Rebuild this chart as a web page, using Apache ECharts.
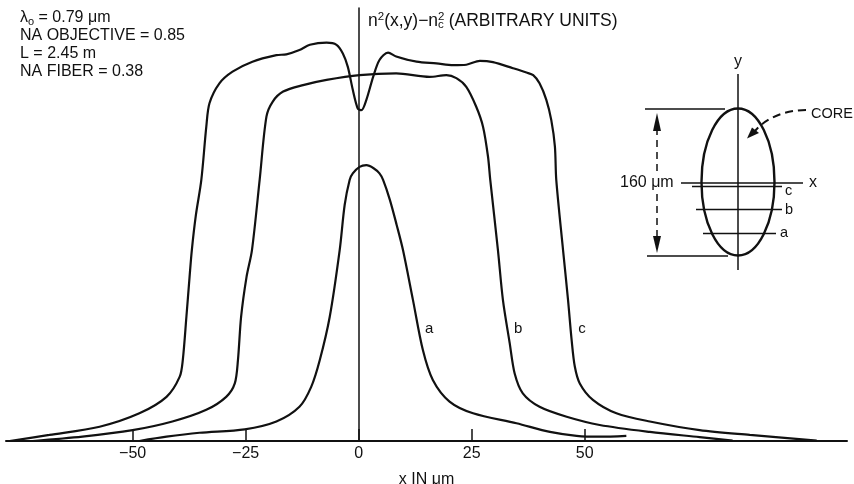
<!DOCTYPE html>
<html>
<head>
<meta charset="utf-8">
<script src="https://cdn.jsdelivr.net/npm/echarts@6/dist/echarts.min.js"></script>
<style>
  html, body { margin: 0; background: #fff; }
  #chart { width: 854px; height: 484px; }
</style>
</head>
<body>
<div id="chart"></div>
<script>
// x in micrometres, y in arbitrary units (0 = baseline, 100 = top of the vertical axis)
const xTicks = [-50, -25, 0, 25, 50];

const curveA = [
  [-48.5, 0], [-42.5, 1.0], [-35.2, 1.9], [-25.2, 2.7], [-18.2, 4.5], [-13.1, 7.9],
  [-10.5, 12.5], [-8.6, 18.7], [-6.4, 28.7], [-4.2, 44.1], [-3.1, 54.5], [-2.0, 60.3],
  [-1.3, 61.8], [0.2, 63.3], [1.7, 63.7], [3.3, 63.0], [4.6, 61.8], [5.4, 60.3],
  [6.9, 55.7], [8.4, 49.9], [9.8, 44.1], [12.0, 32.6], [14.2, 21.0], [16.4, 14.1],
  [20.1, 9.1], [25.3, 6.4], [34.9, 4.1], [42.3, 2.1], [48.2, 1.2], [53.3, 1.0], [59.2, 1.2]
];

const curveB = [
  [-72.1, 0], [-61.1, 1.0], [-50.0, 2.5], [-41.2, 4.5], [-33.7, 7.2], [-29.3, 10.2],
  [-27.4, 13.3], [-26.7, 18.7], [-26.0, 28.7], [-24.8, 37.9], [-23.6, 44.1], [-21.9, 60.3],
  [-20.4, 74.9], [-19.0, 78.4], [-16.7, 80.7], [-12.3, 82.2], [-7.1, 83.4], [0.2, 84.5],
  [8.3, 84.9], [15.7, 84.1], [19.4, 84.5], [21.6, 83.8], [23.8, 81.8], [26.0, 77.2],
  [27.5, 72.6], [28.6, 65.7], [29.1, 60.3], [30.8, 44.1], [31.9, 32.6], [33.4, 22.6],
  [34.5, 15.6], [36.3, 11.0], [40.0, 7.9], [46.0, 5.6], [53.3, 3.7], [64.4, 2.1],
  [75.4, 0.9], [82.7, 0.1]
];

const curveC = [
  [-77.2, 0], [-68.4, 1.4], [-57.3, 3.3], [-48.5, 6.4], [-42.5, 10.2], [-39.6, 14.8],
  [-38.9, 18.7], [-38.1, 28.7], [-37.4, 37.9], [-36.9, 44.1], [-36.0, 52.2], [-34.8, 60.3],
  [-33.7, 72.6], [-33.0, 78.0], [-30.8, 82.6], [-27.9, 85.3], [-23.5, 87.6], [-18.2, 89.1],
  [-16.0, 89.3], [-13.1, 90.3], [-10.8, 91.5], [-7.1, 92.0], [-4.9, 91.5], [-3.5, 89.5],
  [-2.4, 86.4], [-1.3, 81.1], [-0.2, 76.8], [0.6, 76.4], [1.7, 78.8], [3.2, 84.1],
  [4.6, 88.0], [6.5, 89.7], [8.3, 88.8], [12.8, 87.6], [17.2, 87.2], [20.9, 86.8],
  [23.8, 86.9], [26.8, 87.8], [29.7, 87.5], [34.1, 86.1], [37.1, 85.1], [38.6, 84.5],
  [40.0, 82.6], [41.5, 78.8], [42.6, 74.1], [43.4, 68.0], [43.7, 60.3], [45.2, 44.1],
  [46.3, 32.6], [47.1, 23.3], [47.8, 17.2], [48.9, 13.3], [51.8, 9.5], [57.0, 6.4],
  [64.4, 4.5], [75.4, 2.5], [86.5, 1.4], [101.3, 0.1]
];

const curveNames = ['a', 'b', 'c'];
const curveLabelX = [15.6, 35.3, 49.4];
const curveLabelY = 25.9;

const font = '"Liberation Sans", Arial, Helvetica, sans-serif';
const ink = '#111';
const clear = 'rgba(0,0,0,0)';

const chart = echarts.init(document.getElementById('chart'));

function curveSeries(name, data, i) {
  return {
    name: name,
    type: 'line',
    data: data,
    smooth: 0.3,
    showSymbol: false,
    lineStyle: { color: ink, width: 2.2 },
    markPoint: {
      symbol: 'circle',
      symbolSize: 0,
      silent: true,
      label: { show: true, position: 'inside', formatter: name, color: ink, fontSize: 15, fontFamily: font },
      data: [{ coord: [curveLabelX[i], curveLabelY] }]
    }
  };
}

// zrender rich styles (graphic elements use fill, not color)
const rich = {
  T: { fontSize: 17.5, fontFamily: font, fill: ink, lineHeight: 22 },
  H: { fontSize: 17.5, fontFamily: font, fill: clear, lineHeight: 22 },
  sub: { fontSize: 11.5, fontFamily: font, fill: ink, lineHeight: 22, padding: [8, 0, 0, 0] },
  sup: { fontSize: 11.5, fontFamily: font, fill: ink, lineHeight: 22, padding: [0, 0, 9, 0] },
  hs: { fontSize: 11.5, fontFamily: font, fill: clear, lineHeight: 22, padding: [0, 0, 9, 0] }
};

function txt(x, y, s, size, align) {
  return {
    type: 'text', x: x, y: y, silent: true,
    style: { text: s, fill: ink, font: size + 'px ' + font, align: align || 'left', verticalAlign: 'middle' }
  };
}
function seg(x1, y1, x2, y2, w, dash) {
  return {
    type: 'line', silent: true,
    shape: { x1: x1, y1: y1, x2: x2, y2: y2 },
    style: { stroke: ink, lineWidth: w || 1.5, lineDash: dash || null }
  };
}
function tri(points) {
  return { type: 'polygon', silent: true, shape: { points: points }, style: { fill: ink } };
}

chart.setOption({
  animation: false,
  backgroundColor: '#fff',
  grid: { left: 6, right: 7, top: 8, bottom: 43, outerBoundsMode: 'none', containLabel: false },
  xAxis: {
    type: 'value',
    min: -78,
    max: 108,
    name: 'x IN μm',
    nameLocation: 'middle',
    nameGap: 31,
    nameTextStyle: { fontSize: 16, fontFamily: font, color: ink },
    axisLine: { onZero: false, lineStyle: { color: ink, width: 2 } },
    axisTick: { show: true, inside: true, length: 12, customValues: xTicks, lineStyle: { color: ink, width: 1.5 } },
    axisLabel: {
      customValues: xTicks,
      margin: 5,
      fontSize: 16,
      fontFamily: font,
      color: ink,
      formatter: v => String(v).replace('-', '\u2212')
    },
    splitLine: { show: false }
  },
  yAxis: {
    type: 'value',
    min: 0,
    max: 100,
    axisLine: { show: true, onZero: true, lineStyle: { color: ink, width: 1.5 } },
    axisTick: { show: false },
    axisLabel: { show: false },
    splitLine: { show: false }
  },
  series: [curveSeries('a', curveA, 0), curveSeries('b', curveB, 1), curveSeries('c', curveC, 2)],
  graphic: [
    // experiment parameters, top left
    {
      type: 'text', left: 20, top: 9, silent: true,
      style: {
        text: '{t|λ}{sub|o}{t| = 0.79 μm}\n{t|NA OBJECTIVE = 0.85}\n{t|L = 2.45 m}\n{t|NA FIBER = 0.38}',
        rich: {
          t: { fontSize: 16, fontFamily: font, fill: ink, lineHeight: 17.8 },
          sub: { fontSize: 11, fontFamily: font, fill: ink, lineHeight: 17.8, padding: [7, 0, 0, 0] }
        }
      }
    },
    // vertical axis title
    {
      type: 'text', x: 368, y: 10, silent: true,
      style: {
        text: '{T|n}{sup|2}{T|(x,y)\u2212n}{sub|c}{T| (ARBITRARY UNITS)}',
        rich: rich, verticalAlign: 'top'
      }
    },
    {
      type: 'text', x: 368, y: 10, silent: true,
      style: {
        text: '{H|n}{hs|2}{H|(x,y)\u2212n}{sup|2}',
        rich: rich, verticalAlign: 'top'
      }
    },
    // inset: fibre core cross-section
    {
      type: 'ellipse', silent: true,
      shape: { cx: 738, cy: 182, rx: 36.5, ry: 73.5 },
      style: { fill: null, stroke: ink, lineWidth: 2.4 }
    },
    seg(738, 74, 738, 270),
    txt(738, 62, 'y', 16, 'center'),
    seg(681, 183, 803, 183),
    txt(809, 183, 'x', 16),
    seg(692, 186.5, 782, 186.5),
    txt(785, 191, 'c', 14.5),
    seg(696, 209.5, 782, 209.5),
    txt(785, 210, 'b', 14.5),
    seg(703, 233.5, 776, 233.5),
    txt(780, 233, 'a', 14.5),
    seg(645, 109, 725, 109),
    seg(647, 256, 728, 256),
    seg(657, 128, 657, 173, 1.5, [7, 5]),
    seg(657, 194, 657, 240, 1.5, [7, 5]),
    tri([[657, 113], [653, 131], [661, 131]]),
    tri([[657, 253], [653, 236], [661, 236]]),
    txt(620, 183, '160 μm', 16),
    txt(811, 114, 'CORE', 14.5),
    {
      type: 'bezierCurve', silent: true,
      shape: { x1: 806, y1: 110, cpx1: 785, cpy1: 110, cpx2: 766, cpy2: 118, x2: 755, y2: 131 },
      style: { fill: null, stroke: ink, lineWidth: 2, lineDash: [8, 5] }
    },
    tri([[747, 138.5], [752, 127.5], [759, 133]])
  ]
});

window.addEventListener('resize', () => {
  chart.resize();
});
</script>
</body>
</html>
